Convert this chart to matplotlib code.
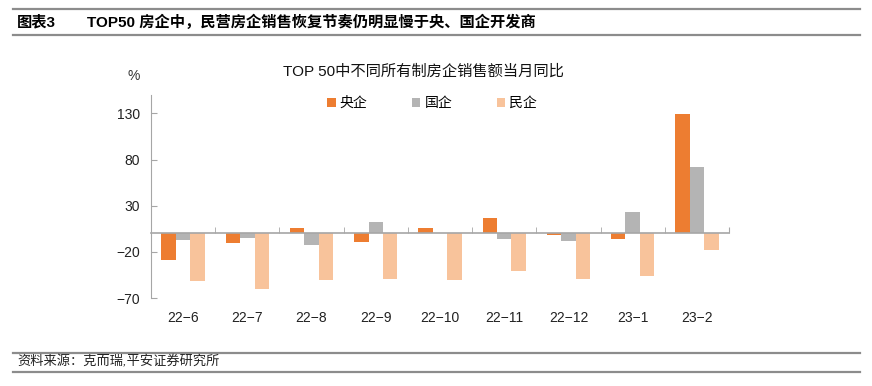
import matplotlib.pyplot as plt
import numpy as np
from matplotlib.patches import Patch
from matplotlib.lines import Line2D

plt.rcParams['font.family'] = ['Liberation Sans', 'Noto Sans CJK SC', 'DejaVu Sans']

# --------------------------------------------------
# Data
# --------------------------------------------------
months = ["22−6", "22−7", "22−8", "22−9", "22−10", "22−11", "22−12", "23−1", "23−2"]
central_soe = [-28.4, -10.0, 6.2, -9.0, 5.4, 17.0, -2.2, -5.7, 129.0]
local_soe = [-7.1, -5.0, -12.6, 12.6, 0.0, -6.5, -7.9, 23.4, 71.7]
private = [-51.4, -60.5, -50.0, -49.3, -50.0, -40.3, -49.3, -46.4, -18.4]
series_names = ["央企", "国企", "民企"]
yticks = [-70, -20, 30, 80, 130]

colors = ["#ED7D31", "#B4B4B4", "#F8C39B"]
grey = "#A6A6A6"

# --------------------------------------------------
# Figure
# --------------------------------------------------
W, H = 872, 386
fig = plt.figure(figsize=(W / 100, H / 100), dpi=100)

ymin, ymax = -70, 150
ax = fig.add_axes([151 / W, 88 / H, 578 / W, 203 / H])

x = np.arange(len(months))
bw = 0.225
for i, vals in enumerate([central_soe, local_soe, private]):
    ax.bar(x + (i - 1) * bw, vals, width=bw, color=colors[i], zorder=2)

ax.set_xlim(-0.5, len(months) - 0.5)
ax.set_ylim(ymin, ymax)

# y axis
ax.set_yticks(yticks)
ax.tick_params(axis="y", direction="in", length=4, color=grey,
               labelsize=10, pad=8, labelcolor="#222222")
ax.spines["left"].set_color(grey)
ax.spines["left"].set_bounds(ymin, ymax)
ax.spines["right"].set_visible(False)
ax.spines["top"].set_visible(False)

# x axis line at zero, with ticks between groups
ax.spines["bottom"].set_position(("data", 0))
ax.spines["bottom"].set_color(grey)
ax.spines["bottom"].set_linewidth(1.2)
ax.spines["bottom"].set_zorder(3)
ax.set_xticks(x[1:] - 0.5, minor=True)
ax.set_xticks([len(months) - 0.5], minor=False)
ax.tick_params(axis="x", which="both", direction="in", length=4,
               color=grey, labelbottom=False)

# category labels at the bottom
sec = ax.secondary_xaxis("bottom")
sec.set_xticks(x, months)
sec.tick_params(length=0, pad=9, labelsize=10, labelcolor="#222222")
sec.spines["bottom"].set_visible(False)

# unit, title, legend
fig.text(134 / W, 1 - 76 / H, "%", fontsize=10, ha="center", va="center",
         color="#333333")
fig.text(423 / W, 1 - 72 / H, "TOP 50中不同所有制房企销售额当月同比",
         fontsize=11, ha="center", va="center", color="#111111")
handles = [Patch(facecolor=c, edgecolor="none") for c in colors]
fig.legend(handles, series_names, loc="center", bbox_to_anchor=(432 / W, 1 - 103 / H),
           ncol=3, frameon=False, fontsize=10, handlelength=0.6, handleheight=0.6,
           handletextpad=0.3, columnspacing=3.2)

# header
for yy in [9, 35, 353, 372]:
    fig.add_artist(Line2D([13 / W, 860 / W], [1 - yy / H, 1 - yy / H],
                          color="#8C8C8C", linewidth=1.6))
fig.text(17 / W, 1 - 22 / H, "图表3", fontsize=11, fontweight="bold",
         va="center", ha="left")
fig.text(87 / W, 1 - 22 / H, "TOP50 房企中，民营房企销售恢复节奏仍明显慢于央、国企开发商",
         fontsize=11, fontweight="bold", va="center", ha="left")

# footer
fig.text(17 / W, 1 - 362 / H, "资料来源：克而瑞,平安证券研究所", fontsize=9.5,
         style="italic", va="center", ha="left", color="#222222")

fig.savefig("out.png", dpi=100)
